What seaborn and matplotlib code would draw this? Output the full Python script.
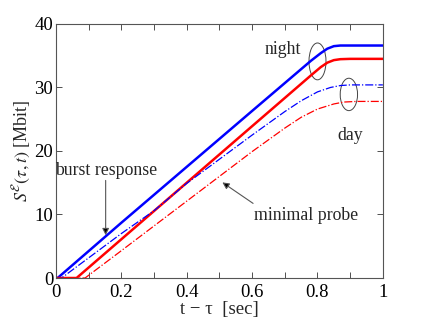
import matplotlib
matplotlib.use("Agg")
import matplotlib.pyplot as plt
from matplotlib.patches import Ellipse
from matplotlib.ticker import MultipleLocator
import seaborn as sns
import pandas as pd

# data
t_blue_night = [0, 0.005, 0.2, 0.4, 0.6, 0.78, 0.81, 0.83, 0.85, 0.87, 0.9, 1.0]
s_blue_night = [0, 0, 8.7, 17.5, 26.3, 34.2, 35.4, 36.1, 36.5, 36.6, 36.6, 36.6]
t_red_night = [0, 0.063, 0.2, 0.4, 0.6, 0.78, 0.81, 0.83, 0.85, 0.87, 0.9, 1.0]
s_red_night = [0, 0, 6.1, 15.0, 23.9, 31.9, 33.2, 33.9, 34.3, 34.45, 34.5, 34.5]
t_blue_day = [0, 0.017, 0.2, 0.3, 0.4, 0.5, 0.6, 0.7, 0.75, 0.8, 0.84, 0.87, 0.9, 1.0]
s_blue_day = [0, 0, 7.0, 10.6, 14.9, 18.7, 22.5, 26.2, 27.9, 29.3, 30.0, 30.3, 30.4, 30.4]
t_red_day = [0, 0.089, 0.2, 0.4, 0.6, 0.7, 0.75, 0.8, 0.85, 0.88, 0.92, 1.0]
s_red_day = [0, 0, 4.3, 12.1, 19.9, 23.6, 25.3, 26.6, 27.4, 27.7, 27.8, 27.8]

sns.set_style("ticks")
plt.rcParams['font.family'] = ['Liberation Serif', 'DejaVu Serif']
plt.rcParams['mathtext.fontset'] = 'stix'

fig = plt.figure(figsize=(4.24, 3.19), dpi=100)
ax = fig.add_axes([0.132, 0.1285, 0.771, 0.7965])

series = [
    (t_blue_night, s_blue_night, 'blue', '-', 1.8),
    (t_red_night, s_red_night, 'red', '-', 1.8),
    (t_blue_day, s_blue_day, 'blue', '-.', 0.9),
    (t_red_day, s_red_day, 'red', '-.', 0.9),
]
for t, s, c, ls, lw in series:
    df = pd.DataFrame({'t': t, 's': s})
    sns.lineplot(data=df, x='t', y='s', ax=ax, color=c, linestyle=ls,
                 linewidth=lw, estimator=None, sort=False)

ax.set_xlim(0, 1)
ax.set_ylim(0, 40)
ax.xaxis.set_minor_locator(MultipleLocator(0.1))
ax.yaxis.set_major_locator(MultipleLocator(10))
ax.set_xticks([0, 0.2, 0.4, 0.6, 0.8, 1.0])
ax.set_xticklabels(['0', '0.2', '0.4', '0.6', '0.8', '1'])
ax.tick_params(which='both', direction='in', top=True, right=True,
               labelsize=13.5, colors='#333333', labelcolor='black', pad=2)
ax.tick_params(axis='x', which='both', pad=4)
ax.tick_params(which='major', length=4, width=0.6)
ax.tick_params(which='minor', length=4, width=0.6)
for sp in ax.spines.values():
    sp.set_visible(True)
    sp.set_color('#555555')
    sp.set_linewidth(0.8)

ax.set_xlabel('t \u2212 \u03c4  [sec]', fontsize=13.5, labelpad=0)
ax.set_ylabel(r'$S^{\mathcal{E}}(\tau,t)$ [Mbit]', fontsize=13, labelpad=2)

fs = 12.8
ax.text(0.694, 35.9, 'night', fontsize=fs, ha='center', va='center')
ax.text(0.901, 22.5, 'day', fontsize=fs, ha='center', va='center')
ax.add_patch(Ellipse((0.80, 34.1), 0.052, 5.8, fill=False, ec='#444444', lw=0.7))
ax.add_patch(Ellipse((0.896, 28.9), 0.053, 5.1, fill=False, ec='#444444', lw=0.7))

ax.text(0.153, 17.0, 'burst response', fontsize=fs, ha='center', va='center')
ax.annotate('', xy=(0.152, 6.3), xytext=(0.152, 15.8),
            arrowprops=dict(arrowstyle='-|>', color='#555555', lw=0.8,
                            mutation_scale=10, fc='black'))
ax.text(0.764, 9.9, 'minimal probe', fontsize=fs, ha='center', va='center')
ax.annotate('', xy=(0.502, 15.3), xytext=(0.61, 11.5),
            arrowprops=dict(arrowstyle='-|>', color='#555555', lw=0.8,
                            mutation_scale=10, fc='black'))

fig.savefig('out.png', dpi=100)
